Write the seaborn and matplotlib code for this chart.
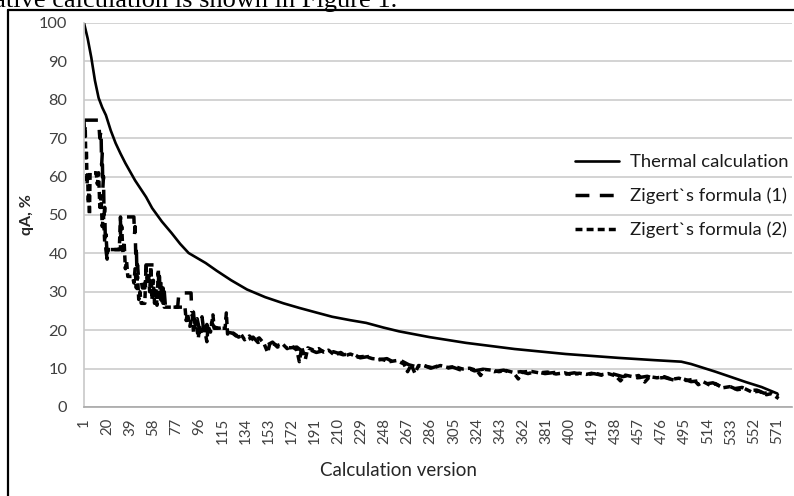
import numpy as np
import pandas as pd
import matplotlib
matplotlib.use('Agg')
import matplotlib.pyplot as plt
import seaborn as sns
from matplotlib.lines import Line2D

sns.set_style('white')
plt.rcParams['font.family'] = ['Lato', 'DejaVu Sans']

# ---- data (category number, qA %) ----
thermal_x = [1, 4, 7, 10, 13, 16, 19, 23, 27, 31, 35, 43, 52, 57, 65, 73, 80, 87, 94, 101,
             110, 122, 135, 150, 165, 178, 192, 205, 220, 233, 247, 260, 285, 315, 355, 397,
             440, 470, 492, 500, 510, 520, 533, 545, 558, 571]
thermal_y = [100, 96, 91, 85, 80.5, 78, 76, 72, 68.7, 66, 63.5, 59, 54.7, 51.8, 48.3, 45.3, 42.5,
             40.1, 38.8, 37.5, 35.5, 33, 30.6, 28.6, 27, 25.8, 24.6, 23.5, 22.6, 21.9, 20.7,
             19.7, 18.2, 16.7, 15.1, 13.8, 12.8, 12.2, 11.8, 11.2, 10.2, 9.2, 7.8, 6.5, 5.2, 3.5]

zig1_x = [1, 13, 14, 15, 15.5, 16, 16.5, 17, 17.5, 18, 18.5, 19, 20, 21, 31, 31, 42, 42.5, 43,
          43.5, 44, 44.5, 45, 46, 48, 49, 51, 52, 62, 62.5, 63, 64, 65, 66, 67, 68, 78, 79, 89,
          89.5, 91, 92, 94, 96, 98, 100, 102, 104, 106, 108, 112, 116, 118, 124, 128, 132, 136,
          140, 144, 148, 152, 156, 160, 164, 170, 176, 180, 186, 192, 197, 201, 206, 214, 222,
          228, 236, 242, 250, 256, 262, 268, 274, 280, 286, 292, 298, 304, 310, 316, 322, 330,
          338, 346, 352, 360, 366, 372, 380, 388, 396, 404, 412, 420, 428, 436, 444, 450, 456,
          464, 470, 478, 486, 494, 500, 506, 512, 518, 524, 530, 536, 542, 548, 554, 560, 566, 572]
zig1_y = [74.7, 74.7, 70, 72, 63, 66, 57, 60, 50, 52, 44, 41, 38.5, 41, 41, 49.5, 49.5, 45, 47,
          40, 42, 35, 37, 33, 33, 31, 31, 37, 37, 31, 34, 28, 32, 27, 30, 26, 26, 29.7, 29.7,
          25, 24.7, 21, 23, 20, 23.5, 18.5, 21.5, 19.5, 22, 20.8, 20.5, 20.8, 19.5, 19.2, 18.2,
          18.8, 17.6, 18.2, 16.8, 17.3, 16.2, 16.9, 15.6, 16.2, 15.4, 15.6, 14.6, 15, 14.2,
          14.6, 13.6, 14.4, 13.6, 13.9, 12.8, 13.2, 12.2, 12.6, 11.6, 12, 11, 10.5, 10.9, 10.1,
          10.7, 10, 10.4, 9.7, 10.2, 9.4, 9.9, 9.2, 9.6, 8.9, 9.2, 8.7, 9.2, 8.7, 9, 8.5, 8.9,
          8.3, 8.7, 8.2, 8.6, 7.9, 8.3, 7.6, 8, 7.4, 7.7, 7, 7.3, 6.6, 6.8, 6, 6.3, 5.4, 5.6,
          4.8, 5.1, 4.3, 4.4, 3.6, 3.7, 2.9]

zig2_x = [1, 1.5, 2, 2.5, 3, 3.5, 4, 4.5, 5, 5.5, 6, 11, 12, 13, 14, 15, 16, 17, 18, 19, 20, 21,
          30, 31, 31.5, 32, 33, 34, 35, 36, 37, 41, 42, 43, 44, 45, 46, 47, 48, 51, 52, 53, 54,
          55, 56, 57, 58, 59, 60, 61, 62, 63, 64, 65, 66, 67, 84, 85, 86, 88, 90, 91, 93, 95,
          96, 98, 100, 102, 103, 105, 107, 108, 117, 118, 119, 122, 126, 130, 133, 137, 141,
          145, 149, 152, 154, 160, 164, 168, 172, 176, 178, 180, 183, 185, 190, 194, 198, 202,
          207, 212, 216, 220, 226, 232, 238, 246, 252, 258, 264, 267, 270, 273, 276, 282, 288,
          294, 300, 306, 312, 318, 324, 327, 330, 336, 342, 348, 354, 358, 361, 368, 375, 382,
          389, 396, 402, 408, 414, 420, 426, 432, 438, 442, 446, 452, 457, 462, 466, 472, 478,
          484, 490, 496, 502, 506, 510, 516, 520, 526, 532, 538, 544, 550, 556, 562, 566, 572]
zig2_y = [74.7, 70, 73, 64, 67, 58, 61, 53, 56, 50, 61, 61, 58, 61, 52, 55, 47, 50, 43, 45, 40,
          41, 41, 49.5, 44, 47, 40, 43, 36, 38, 34, 34, 32.3, 36, 31, 34, 28, 30, 27, 27, 37,
          32, 35, 30, 36.5, 28, 33, 27, 31, 26.5, 35, 29, 33, 27, 31, 26, 26, 22.5, 24.5, 21,
          24, 19.5, 22, 18, 21, 19, 20.5, 17, 21, 19.5, 24, 20.5, 20.5, 24.5, 19, 19.5, 18.5,
          19, 17.5, 18.5, 17.2, 18, 16.5, 14.2, 16.8, 16, 16.5, 15.2, 15.8, 14.8, 11.8, 15.5,
          12.5, 15.4, 14.8, 15.2, 14.3, 14.8, 13.5, 14.2, 13.4, 13.8, 13, 13.2, 12.6, 12.4,
          11.8, 12.1, 11.2, 9.2, 11, 8.8, 10.8, 10.6, 10.2, 10.8, 10.3, 10.5, 9.9, 10.1, 9.5,
          8.2, 9.8, 9.6, 9.2, 9.5, 9, 7.3, 9.1, 9.3, 8.9, 9.1, 8.6, 8.9, 8.4, 8.8, 8.5, 8.9,
          8.4, 8.7, 8.1, 6.8, 8.3, 7.9, 8.2, 6.5, 7.9, 7.6, 7.9, 7.2, 7.5, 6.9, 7.2, 5.8, 6.6,
          5.6, 6.1, 5.0, 5.3, 4.5, 4.8, 3.9, 4.1, 3.2, 3.5, 2.2]

tick_labels = list(range(1, 572, 19))

W, H = 794, 496
fig = plt.figure(figsize=(W / 100, H / 100), dpi=100)
ax = fig.add_axes([84 / W, 1 - 407 / H, (792 - 84) / W, (407 - 23) / H])

sns.lineplot(x=thermal_x, y=thermal_y, ax=ax, color='black', linewidth=1.9,
             sort=False, estimator=None, label='Thermal calculation')
sns.lineplot(x=zig1_x, y=zig1_y, ax=ax, color='black', linewidth=2.5,
             sort=False, estimator=None, linestyle=(0, (4, 3)),
             label='Zigert`s formula (1)')
sns.lineplot(x=zig2_x, y=zig2_y, ax=ax, color='black', linewidth=2.5,
             sort=False, estimator=None, linestyle=(0, (2, 1.2)),
             label='Zigert`s formula (2)')

ax.set_xlim(1, 583)
ax.set_ylim(0, 100)
ax.set_yticks(range(0, 101, 10))
ax.yaxis.grid(True, color='#d0d0d0', linewidth=1.3)
ax.set_axisbelow(True)
ax.set_xticks(tick_labels)
ax.set_xticks(np.arange(1, 584, 1), minor=True)
ax.set_xticklabels([str(t) for t in tick_labels], rotation=90, fontsize=10.8, color='#404040')
ax.tick_params(axis='x', which='both', length=6, width=0.6, color='#a0a0a0',
               direction='out', pad=2)
ax.tick_params(axis='y', length=0, labelsize=11.8, labelcolor='#404040', pad=12)
for s in ['top', 'right']:
    ax.spines[s].set_visible(False)
ax.spines['left'].set_color('#c8c8c8')
ax.spines['bottom'].set_color('#a8a8a8')
ax.spines['left'].set_linewidth(1.2)
ax.spines['bottom'].set_linewidth(1.2)
ax.set_xlabel('')
ax.set_ylabel('')

leg = ax.legend(loc='upper left', bbox_to_anchor=(575 / W, 1 - 154 / H),
                bbox_transform=fig.transFigure, frameon=False, fontsize=13.3,
                handlelength=2.4, handletextpad=0.6, labelspacing=0.95, borderpad=0,
                borderaxespad=0)
for t in leg.get_texts():
    t.set_color('#1a1a1a')

fig.text(27 / W, 1 - 215 / H, 'qA, %', rotation=90, ha='center', va='center',
         fontsize=11.5, fontweight='bold', color='#262626')
fig.text(398 / W, 1 - 470 / H, 'Calculation version', ha='center', va='center',
         fontsize=13.5, color='#262626')

# clipped caption line above the chart and the frame around it
fig.text(397 / W, 1 - 7 / H, 'comparative calculation is shown in Figure 1.',
         ha='right', va='baseline', fontsize=19, family='Liberation Serif', color='black')
fig.add_artist(Line2D([8 / W, 8 / W], [0, 1 - 10 / H], color='black', linewidth=1.6))
fig.add_artist(Line2D([8 / W, 1], [1 - 10 / H, 1 - 10 / H], color='black', linewidth=1.6))

fig.savefig('out.png', dpi=100)
